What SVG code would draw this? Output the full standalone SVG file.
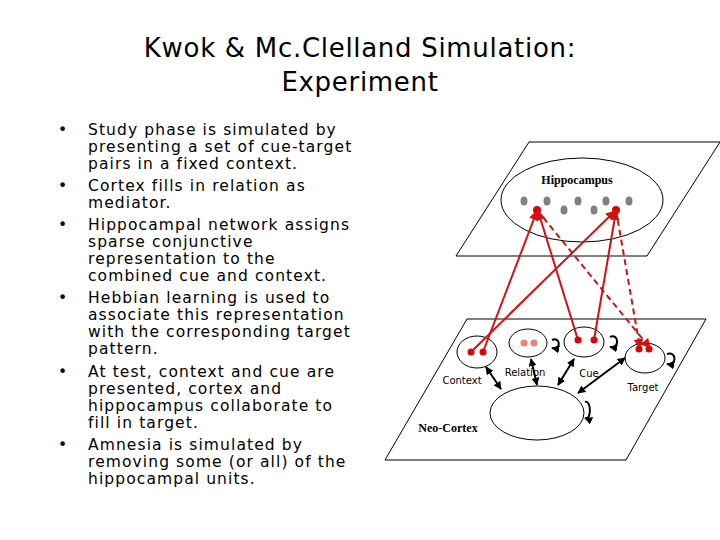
<svg xmlns="http://www.w3.org/2000/svg" width="720" height="540" viewBox="0 0 720 540">
<defs>
<style>
.t{font-family:"DejaVu Sans",Verdana,sans-serif;font-size:15.5px;letter-spacing:1.1px;fill:#000}
.s{font-family:"DejaVu Sans",Verdana,sans-serif;font-size:10px;fill:#000}
.b{font-family:"Liberation Serif",serif;font-size:12px;font-weight:bold;fill:#000}
.k{fill:none;stroke:#000;stroke-width:1}
.r{stroke:#d41010;stroke-width:2;fill:none}
.d{stroke-dasharray:6 4}
.a{stroke:#000;stroke-width:2;fill:none}
.rd{fill:#e00000}.g{fill:#808080}
</style>
<marker id="mr" viewBox="0 0 10 10" refX="9" refY="5" markerWidth="5" markerHeight="5" orient="auto-start-reverse"><path d="M0,0L10,5L0,10z" fill="#d41010"/></marker>
<marker id="mk" viewBox="0 0 10 10" refX="9" refY="5" markerWidth="4" markerHeight="4" orient="auto-start-reverse"><path d="M0,0L10,5L0,10z" fill="#000"/></marker>
</defs>
<rect width="720" height="540" fill="#fff"/>
<g id="title" font-family="DejaVu Sans,Verdana,sans-serif" font-size="26" letter-spacing="0.7" text-anchor="middle">
<text x="360" y="57">Kwok &amp; Mc.Clelland Simulation:</text>
<text x="360" y="91">Experiment</text>
</g>
<g id="bullets">
<text class="t" x="58" y="135">•</text><text class="t" x="88" y="135">Study phase  is simulated by</text>
<text class="t" x="88" y="152">presenting a set of cue-target</text>
<text class="t" x="88" y="169">pairs in a fixed context.</text>
<text class="t" x="58" y="191">•</text><text class="t" x="88" y="191">Cortex fills in relation as</text>
<text class="t" x="88" y="208">mediator.</text>
<text class="t" x="58" y="230">•</text><text class="t" x="88" y="230">Hippocampal network assigns</text>
<text class="t" x="88" y="247">sparse conjunctive</text>
<text class="t" x="88" y="264">representation to the</text>
<text class="t" x="88" y="281">combined cue and context.</text>
<text class="t" x="58" y="303">•</text><text class="t" x="88" y="303">Hebbian learning is used to</text>
<text class="t" x="88" y="320">associate this representation</text>
<text class="t" x="88" y="337">with the corresponding target</text>
<text class="t" x="88" y="354">pattern.</text>
<text class="t" x="58" y="377">•</text><text class="t" x="88" y="377">At test, context and cue are</text>
<text class="t" x="88" y="394">presented, cortex and</text>
<text class="t" x="88" y="411">hippocampus collaborate to</text>
<text class="t" x="88" y="428">fill in target.</text>
<text class="t" x="58" y="450">•</text><text class="t" x="88" y="450">Amnesia is simulated by</text>
<text class="t" x="88" y="467">removing some (or all) of the</text>
<text class="t" x="88" y="484">hippocampal units.</text>
</g>
<g id="hippocampus">
<path class="k" d="M529,142L720,142L647,256L456,256Z"/>
<ellipse class="k" cx="582" cy="200" rx="81" ry="42"/>
<text class="b" x="577" y="184" text-anchor="middle">Hippocampus</text>
<g class="g"><ellipse cx="524" cy="201" rx="3.5" ry="4.5"/><ellipse cx="547" cy="201" rx="3.5" ry="4.5"/><ellipse cx="578" cy="201" rx="3.5" ry="4.5"/><ellipse cx="606" cy="201" rx="3.5" ry="4.5"/><ellipse cx="629" cy="201" rx="3.5" ry="4.5"/><ellipse cx="564" cy="210" rx="3.5" ry="4.5"/><ellipse cx="594" cy="210" rx="3.5" ry="4.5"/></g>
<circle class="rd" cx="537" cy="210" r="4"/><circle class="rd" cx="616" cy="210" r="4"/>
</g>
<g id="neocortex">
<path class="k" d="M467,319L706,319L626,460L385,460Z"/>
<ellipse class="k" cx="537" cy="413" rx="47" ry="27"/>
<text class="b" x="448" y="432" text-anchor="middle">Neo-Cortex</text>
</g>
<g id="context">
<ellipse class="k" cx="477" cy="352" rx="20" ry="16"/>
<circle class="rd" cx="471" cy="352" r="3.5"/><circle class="rd" cx="483" cy="352" r="3.5"/>
<text class="s" x="462" y="384" text-anchor="middle">Context</text>
</g>
<g id="relation">
<ellipse class="k" cx="528" cy="343" rx="19" ry="14"/>
<circle fill="#f08080" cx="524" cy="343" r="3.5"/><circle fill="#f08080" cx="534" cy="343" r="3.5"/>
<text class="s" x="525" y="376" text-anchor="middle">Relation</text>
</g>
<g id="cue">
<ellipse class="k" cx="584" cy="342" rx="20" ry="15"/>
<circle class="rd" cx="578" cy="340" r="3.5"/><circle class="rd" cx="594" cy="340" r="3.5"/>
<text class="s" x="589" y="377" text-anchor="middle">Cue</text>
</g>
<g id="target">
<ellipse class="k" cx="645" cy="358" rx="20" ry="15"/>
<circle class="rd" cx="639" cy="349" r="3.5"/><circle class="rd" cx="649" cy="349" r="3.5"/>
<text class="s" x="643" y="391" text-anchor="middle">Target</text>
</g>
<g id="connectors">
<path class="r" marker-end="url(#mr)" d="M483,352L537,211"/>
<path class="r" marker-end="url(#mr)" d="M471,352L615,211"/>
<path class="r" marker-end="url(#mr)" d="M578,340L538,211"/>
<path class="r" marker-end="url(#mr)" d="M594,340L616,211"/>
<path class="r d" marker-end="url(#mr)" d="M537,210L650,348"/>
<path class="r d" marker-end="url(#mr)" d="M616,210L640,348"/>
<path class="a" marker-start="url(#mk)" marker-end="url(#mk)" d="M486,367L501,389"/>
<path class="a" marker-start="url(#mk)" marker-end="url(#mk)" d="M531,359L537,385"/>
<path class="a" marker-start="url(#mk)" marker-end="url(#mk)" d="M574,359L558,385"/>
<path class="a" marker-start="url(#mk)" marker-end="url(#mk)" d="M625,358L578,393"/>
<path class="a" marker-end="url(#mk)" d="M552,340C560,336 562,350 552,348"/>
<path class="a" marker-end="url(#mk)" d="M610,337C619,333 620,349 610,347"/>
<path class="a" marker-end="url(#mk)" d="M667,354C677,351 677,366 667,364"/>
<path class="a" marker-end="url(#mk)" d="M585,402C591,399 592,421 585,418"/>
</g>
</svg>
